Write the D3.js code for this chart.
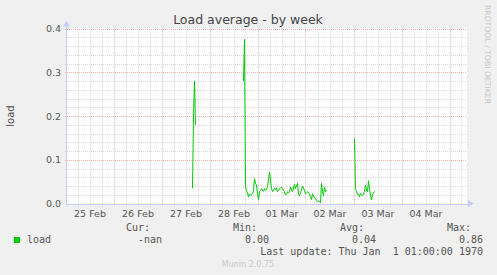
<!DOCTYPE html>
<html>
<head>
<meta charset="utf-8">
<script src="https://cdn.jsdelivr.net/npm/d3@7"></script>
<style>
  body { margin: 0; background: #f0f0f0; }
  svg { display: block; }
</style>
</head>
<body>
<div id="chart"></div>
<script>
let width = 497,
    height = 275

// time window of the week graph (30 min per pixel)
const rangeStart = "2023-02-25T00:45:00Z"
const rangeEnd = "2023-03-05T08:45:00Z"
const stepMinutes = 30

// load series, one value every 30 minutes, split where there is no data
const seg1Start = "2023-02-27T15:30:00Z"
const seg1 = [0.035, 0.20, 0.28, 0.18]

const seg2Start = "2023-02-28T17:00:00Z"
const seg2 = [0.28, 0.375, 0.038, 0.029, 0.024, 0.015, 0.022, 0.019, 0.020, 0.022,
  0.030, 0.057, 0.046, 0.042, 0.022, 0.009, 0.027, 0.030, 0.034, 0.030,
  0.028, 0.034, 0.030, 0.032, 0.038, 0.053, 0.072, 0.055, 0.034, 0.027,
  0.030, 0.034, 0.031, 0.036, 0.027, 0.030, 0.034, 0.036, 0.038, 0.034,
  0.030, 0.027, 0.019, 0.022, 0.027, 0.024, 0.027, 0.038, 0.030, 0.027,
  0.035, 0.044, 0.034, 0.040, 0.046, 0.022, 0.017, 0.025, 0.030, 0.040,
  0.035, 0.030, 0.022, 0.025, 0.027, 0.024, 0.022, 0.015, 0.009, 0.022,
  0.017, 0.014, 0.011, 0.006, 0.004, 0.005, 0.004, 0.002, 0.046, 0.027,
  0.018, 0.038, 0.027, 0.030]

const seg3Start = "2023-03-03T00:30:00Z"
const seg3 = [0.149, 0.034, 0.027, 0.021, 0.021, 0.015, 0.023, 0.021, 0.018, 0.021,
  0.028, 0.042, 0.030, 0.027, 0.052, 0.034, 0.018, 0.008, 0.020, 0.024, 0.028]

const yTicks = [0.0, 0.1, 0.2, 0.3, 0.4]
const dayLabels = ["2023-02-25", "2023-02-26", "2023-02-27", "2023-02-28",
                   "2023-03-01", "2023-03-02", "2023-03-03", "2023-03-04"]

const legendHeads = ["Cur:", "Min:", "Avg:", "Max:"]
const legendValues = ["-nan", "0.00", "0.04", "0.86"]
const seriesName = "load"
const lastUpdate = "Last update: Thu Jan  1 01:00:00 1970"

let svg = d3.select("#chart").append("svg")
    .attr("width", width)
    .attr("height", height)

svg.append("rect")
    .attr("width", width)
    .attr("height", height)
    .attr("fill", "#f0f0f0")

let x = d3.scaleUtc()
    .domain([new Date(rangeStart), new Date(rangeEnd)])
    .range([67, 467])

let y = d3.scaleLinear()
    .domain([0, 0.4])
    .range([203.5, 28.5])

// plot canvas
svg.append("rect")
    .attr("x", x.range()[0])
    .attr("y", y(0.4))
    .attr("width", x.range()[1] - x.range()[0])
    .attr("height", y(0) - y(0.4))
    .attr("fill", "#ffffff")

let grid = svg.append("g")

let minorColor = "#d9d9d9",
    majorColor = "#eeb4b4"

// minor grid: every 6 hours / every 0.02
let minorX = d3.utcHour.every(6).range(...x.domain()).filter(d => d.getUTCHours() != 0)
grid.selectAll(".vminor")
  .data(minorX)
  .enter().append("line")
    .attr("x1", d => Math.round(x(d)) + 0.5)
    .attr("x2", d => Math.round(x(d)) + 0.5)
    .attr("y1", y(0.4))
    .attr("y2", y(0) + 2)
    .attr("stroke", minorColor)
    .attr("stroke-dasharray", "1,1")

let minorY = d3.range(1, 20).map(i => i * 0.02).filter(v => Math.round(v * 50) % 5 != 0)
grid.selectAll(".hminor")
  .data(minorY)
  .enter().append("line")
    .attr("x1", x.range()[0] - 2)
    .attr("x2", x.range()[1])
    .attr("y1", d => Math.round(y(d)) + 0.5)
    .attr("y2", d => Math.round(y(d)) + 0.5)
    .attr("stroke", minorColor)
    .attr("stroke-dasharray", "1,1")

// major grid: every day / every 0.1
let majorX = d3.utcDay.range(...x.domain())
grid.selectAll(".vmajor")
  .data(majorX)
  .enter().append("line")
    .attr("x1", d => Math.round(x(d)) + 0.5)
    .attr("x2", d => Math.round(x(d)) + 0.5)
    .attr("y1", y(0.4))
    .attr("y2", y(0) + 2)
    .attr("stroke", majorColor)
    .attr("stroke-dasharray", "1,1")

grid.selectAll(".hmajor")
  .data(yTicks.slice(1))
  .enter().append("line")
    .attr("x1", x.range()[0] - 2)
    .attr("x2", x.range()[1])
    .attr("y1", d => Math.round(y(d)) + 0.5)
    .attr("y2", d => Math.round(y(d)) + 0.5)
    .attr("stroke", majorColor)
    .attr("stroke-dasharray", "1,1")

// axes lines with arrows
let axisColor = "#c8ccf6"
svg.append("line")
    .attr("x1", x.range()[0] - 0.5).attr("x2", x.range()[1] + 3)
    .attr("y1", Math.round(y(0)) + 0.5).attr("y2", Math.round(y(0)) + 0.5)
    .attr("stroke", axisColor)
svg.append("line")
    .attr("x1", x.range()[0] - 0.5).attr("x2", x.range()[0] - 0.5)
    .attr("y1", y(0) + 2).attr("y2", y(0.4) - 4)
    .attr("stroke", axisColor)
svg.append("path")
    .attr("d", "M" + (x.range()[1] + 1) + "," + (y(0) - 3.5) + "l6,3.5l-6,3.5z")
    .attr("fill", axisColor)
svg.append("path")
    .attr("d", "M" + (x.range()[0] - 4) + "," + (y(0.4) - 2) + "l3.5,-6l3.5,6z")
    .attr("fill", axisColor)

// series
let line = d3.line()
    .x(d => x(d.t))
    .y(d => y(d.v))

function toPoints(start, values) {
  let t0 = new Date(start).getTime()
  return values.map((v, i) => ({ t: new Date(t0 + i * stepMinutes * 60000), v: v }))
}

svg.selectAll(".series")
  .data([toPoints(seg1Start, seg1), toPoints(seg2Start, seg2), toPoints(seg3Start, seg3)])
  .enter().append("path")
    .attr("d", line)
    .attr("fill", "none")
    .attr("stroke", "#00cc00")
    .attr("stroke-width", 1)

// tick labels
let xAxis = svg.append("g")
    .attr("transform", "translate(0," + y(0) + ")")
    .call(d3.axisBottom(x)
      .tickValues(dayLabels.map(d => new Date(d + "T12:00:00Z")))
      .tickFormat(d3.utcFormat("%d %b"))
      .tickSize(0)
      .tickPadding(7))
xAxis.select(".domain").remove()
xAxis.selectAll("text")
    .attr("font-family", "DejaVu Sans")
    .attr("font-size", "9.5px")
    .attr("fill", "#555")

let yAxis = svg.append("g")
    .attr("transform", "translate(" + x.range()[0] + ",0)")
    .call(d3.axisLeft(y)
      .tickValues(yTicks)
      .tickFormat(d3.format(".1f"))
      .tickSize(0)
      .tickPadding(6))
yAxis.select(".domain").remove()
yAxis.selectAll("text")
    .attr("font-family", "DejaVu Sans")
    .attr("font-size", "9.5px")
    .attr("fill", "#555")

// title and side texts
svg.append("text")
    .attr("x", 248)
    .attr("y", 24)
    .attr("text-anchor", "middle")
    .attr("font-family", "DejaVu Sans")
    .attr("font-size", "12.5px")
    .attr("fill", "#444")
    .text("Load average - by week")

svg.append("text")
    .attr("transform", "translate(14," + ((y(0) + y(0.4)) / 2) + ") rotate(-90)")
    .attr("text-anchor", "middle")
    .attr("font-family", "DejaVu Sans")
    .attr("font-size", "10px")
    .attr("fill", "#555")
    .text("load")

svg.append("text")
    .attr("transform", "translate(485,5) rotate(90)")
    .attr("font-family", "DejaVu Sans")
    .attr("font-size", "7.7px")
    .attr("fill", "#c8c8c8")
    .text("RRDTOOL / TOBI OETIKER")

// legend
let legend = svg.append("g")
    .attr("font-family", "DejaVu Sans Mono")
    .attr("font-size", "10px")
    .attr("fill", "#555")

legend.selectAll(".head")
  .data(legendHeads)
  .enter().append("text")
    .attr("x", (d, i) => 150 + i * 107)
    .attr("y", 231)
    .attr("text-anchor", "end")
    .text(d => d)

legend.selectAll(".val")
  .data(legendValues)
  .enter().append("text")
    .attr("x", (d, i) => 162 + i * 107)
    .attr("y", 243)
    .attr("text-anchor", "end")
    .text(d => d)

legend.append("rect")
    .attr("x", 14)
    .attr("y", 237)
    .attr("width", 6)
    .attr("height", 6)
    .attr("fill", "#00cc00")

legend.append("text")
    .attr("x", 27)
    .attr("y", 243)
    .text(seriesName)

legend.append("text")
    .attr("x", 483)
    .attr("y", 254.5)
    .attr("text-anchor", "end")
    .attr("xml:space", "preserve")
    .style("white-space", "pre")
    .text(lastUpdate)

svg.append("text")
    .attr("x", 248)
    .attr("y", 267)
    .attr("text-anchor", "middle")
    .attr("font-family", "DejaVu Sans")
    .attr("font-size", "8px")
    .attr("fill", "#c8c8c8")
    .text("Munin 2.0.75")
</script>
</body>
</html>
